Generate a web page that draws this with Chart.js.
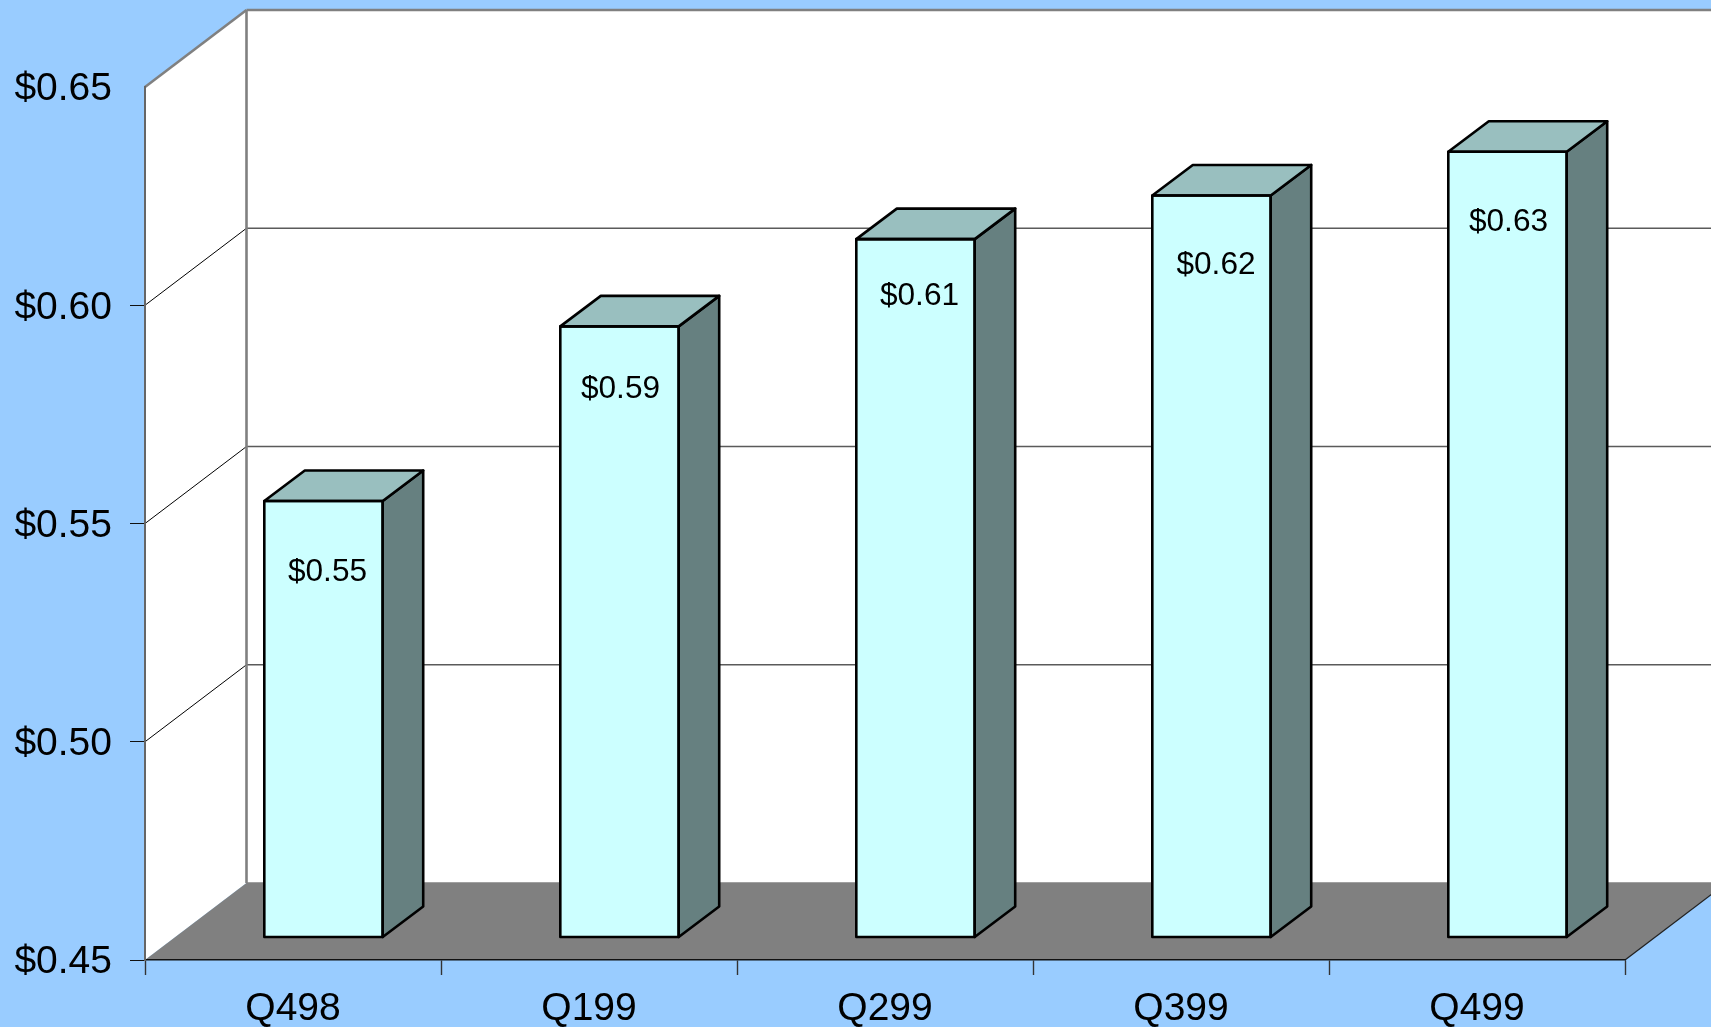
<!DOCTYPE html>
<html>
<head>
<meta charset="utf-8">
<style>html,body{margin:0;padding:0;background:#99CCFF;overflow:hidden}canvas{display:block}</style>
<script src="https://cdn.jsdelivr.net/npm/chart.js@4/dist/chart.umd.min.js"></script>
</head>
<body>
<canvas id="c" width="1711" height="1027"></canvas>
<script>
const categories = ['Q498', 'Q199', 'Q299', 'Q399', 'Q499'];
const eps = [0.55, 0.59, 0.61, 0.62, 0.63];
const yMin = 0.45, yMax = 0.65, yStep = 0.05;
const fmt = v => '$' + Number(v).toFixed(2);

// 3D projection styling
const WALL = {dx: 101.5, dy: -77};
const FRONT = {dx: 30.5, dy: -22.5};
const DEPTH = {dx: 40.5, dy: -30.5};
// hand-placed label offsets in the source, relative to the bar's front-top centre
const labelNudgeX = [4, 1, 4, 4.5, 1];
const labelNudgeY = [71, 63, 57, 70, 70];

const poly = (ctx, pts, fill, stroke, lw) => {
  ctx.beginPath();
  pts.forEach((p, i) => i ? ctx.lineTo(p[0], p[1]) : ctx.moveTo(p[0], p[1]));
  ctx.closePath();
  if (fill) { ctx.fillStyle = fill; ctx.fill(); }
  if (stroke) { ctx.strokeStyle = stroke; ctx.lineWidth = lw; ctx.lineJoin = 'round'; ctx.stroke(); }
};
const seg = (ctx, x1, y1, x2, y2, color, lw) => {
  ctx.beginPath(); ctx.moveTo(x1, y1); ctx.lineTo(x2, y2);
  ctx.strokeStyle = color; ctx.lineWidth = lw; ctx.stroke();
};

const box3d = {
  id: 'box3d',
  beforeDraw(chart) {
    const {ctx, chartArea: a, scales: {y}} = chart;
    const bx = a.left + WALL.dx, bTop = a.top + WALL.dy, bBot = a.bottom + WALL.dy, bRight = a.right + WALL.dx;
    ctx.save();
    // walls
    poly(ctx, [[a.left, a.top], [bx, bTop], [bx, bBot], [a.left, a.bottom]], '#FFFFFF');
    poly(ctx, [[bx, bTop], [bRight, bTop], [bRight, bBot], [bx, bBot]], '#FFFFFF');
    // floor
    poly(ctx, [[a.left, a.bottom], [a.right, a.bottom], [bRight, bBot], [bx, bBot]], '#808080');
    seg(ctx, bx, bBot, bRight, bBot, '#808080', 1.5);
    // gridlines
    y.ticks.forEach(t => {
      if (t.value <= yMin + 1e-9 || t.value >= yMax - 1e-9) return;
      const py = y.getPixelForValue(t.value);
      seg(ctx, a.left, py, bx, py + WALL.dy, '#000000', 1);
      seg(ctx, bx, py + WALL.dy, bRight, py + WALL.dy, '#5A5A5A', 1.4);
    });
    // wall edges
    seg(ctx, a.left, a.top, bx, bTop, '#808080', 2.6);
    seg(ctx, bx, bTop, bRight, bTop, '#808080', 2.6);
    seg(ctx, bx, bTop, bx, bBot, '#808080', 2.6);
    seg(ctx, a.right, a.bottom, bRight, bBot, '#222222', 1.3);
    ctx.restore();
  },
  beforeDatasetDraw(chart) {
    chart.ctx.save();
    chart.ctx.translate(FRONT.dx, FRONT.dy);
  },
  afterDatasetDraw(chart, args) {
    const ctx = chart.ctx;
    const lw = 2.6;
    args.meta.data.forEach(bar => {
      const {x, y, base, width} = bar.getProps(['x', 'y', 'base', 'width'], true);
      const l = x - width / 2, r = x + width / 2, d = DEPTH;
      poly(ctx, [[r, y], [r + d.dx, y + d.dy], [r + d.dx, base + d.dy], [r, base]], '#668080', '#000000', lw);
      poly(ctx, [[l, y], [l + d.dx, y + d.dy], [r + d.dx, y + d.dy], [r, y]], '#99BFBF', '#000000', lw);
      ctx.strokeStyle = '#000000'; ctx.lineWidth = lw;
      ctx.strokeRect(l, y, width, base - y);
    });
    chart.ctx.restore();
  },
  afterDatasetsDraw(chart) {
    const ctx = chart.ctx;
    ctx.save();
    ctx.fillStyle = '#000000';
    ctx.font = '31.6px "Liberation Sans", Arial, sans-serif';
    ctx.textAlign = 'center';
    ctx.textBaseline = 'middle';
    chart.getDatasetMeta(0).data.forEach((bar, i) => {
      ctx.fillText(fmt(eps[i]), bar.x + FRONT.dx + labelNudgeX[i], bar.y + FRONT.dy + labelNudgeY[i]);
    });
    ctx.restore();
  }
};

new Chart(document.getElementById('c'), {
  type: 'bar',
  data: {
    labels: categories,
    datasets: [{
      data: eps,
      base: yMin,
      backgroundColor: '#CCFFFF',
      borderWidth: 0,
      categoryPercentage: 1,
      barPercentage: 0.4
    }]
  },
  options: {
    responsive: false,
    animation: false,
    layout: {padding: {top: 87, right: 86, left: 0, bottom: 0}},
    plugins: {legend: {display: false}, tooltip: {enabled: false}, title: {display: false}},
    scales: {
      x: {
        offset: true,
        afterFit: s => { s.height = 67; },
        grid: {drawOnChartArea: false, drawTicks: true, tickLength: 15, tickColor: '#333333', tickWidth: 1.4, offset: true},
        border: {display: true, color: '#111111', width: 1.5},
        ticks: {color: '#000000', padding: 11, font: {family: '"Liberation Sans", Arial, sans-serif', size: 39}, maxRotation: 0, autoSkip: false}
      },
      y: {
        min: yMin, max: yMax,
        afterFit: s => { s.width = 145; },
        grid: {
          drawOnChartArea: false, drawTicks: true, tickLength: 15, tickWidth: 1,
          tickColor: c => (c.tick && c.tick.value >= yMax - 1e-9) ? 'rgba(0,0,0,0)' : '#111111'
        },
        border: {display: true, color: '#666666', width: 2},
        ticks: {stepSize: yStep, color: '#000000', padding: 18, labelOffset: 2.5, font: {family: '"Liberation Sans", Arial, sans-serif', size: 39}, callback: fmt}
      }
    }
  },
  plugins: [box3d]
});
</script>
</body>
</html>
